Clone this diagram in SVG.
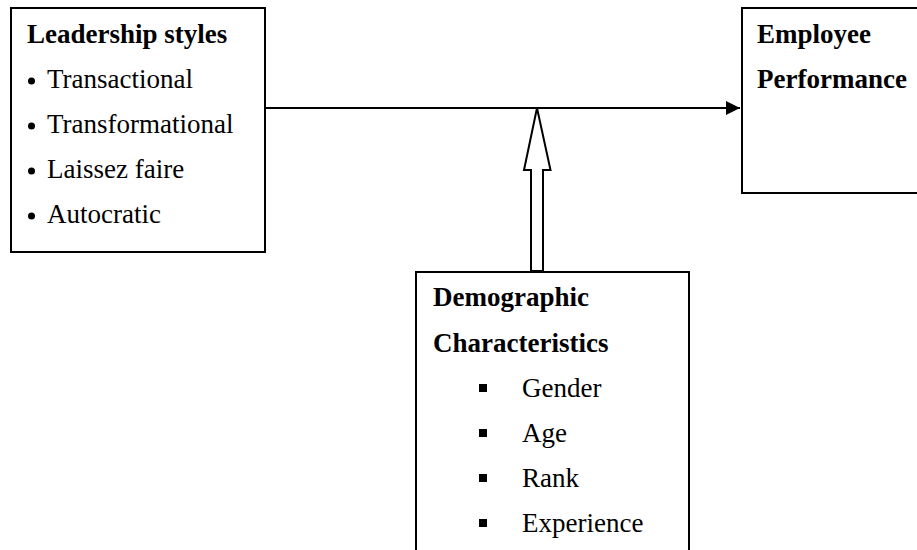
<svg xmlns="http://www.w3.org/2000/svg" width="917" height="550" viewBox="0 0 917 550">
<style>
.box{fill:#fff;stroke:#000;stroke-width:2}
.t{font-family:"Liberation Serif","Times New Roman",serif;font-size:27px;fill:#000}
.b{font-weight:bold}
.line{stroke:#000;stroke-width:2;fill:none}
</style>
<defs>
<marker id="ah" markerWidth="14" markerHeight="14" refX="14" refY="7" orient="auto" markerUnits="userSpaceOnUse">
<path d="M0,0 L14,7 L0,14 Z" fill="#000"/>
</marker>
</defs>
<rect width="917" height="550" fill="#fff"/>
<g id="leadership">
<rect class="box" x="11" y="8" width="254" height="244"/>
<text class="t b" x="27" y="43">Leadership styles</text>
<circle cx="31.5" cy="81" r="3.5"/>
<text class="t" x="47" y="88">Transactional</text>
<circle cx="31.5" cy="126" r="3.5"/>
<text class="t" x="47" y="133">Transformational</text>
<circle cx="31.5" cy="171" r="3.5"/>
<text class="t" x="47" y="178">Laissez faire</text>
<circle cx="31.5" cy="216" r="3.5"/>
<text class="t" x="47" y="223">Autocratic</text>
</g>
<g id="performance">
<rect class="box" x="742" y="8" width="190" height="185"/>
<text class="t b" x="757" y="43">Employee</text>
<text class="t b" x="757" y="88">Performance</text>
</g>
<g id="demographic">
<rect class="box" x="416" y="272" width="273" height="290"/>
<text class="t b" x="433" y="306">Demographic</text>
<text class="t b" x="433" y="352">Characteristics</text>
<rect x="479" y="384" width="8" height="8"/>
<text class="t" x="522" y="397">Gender</text>
<rect x="479" y="429" width="8" height="8"/>
<text class="t" x="522" y="442">Age</text>
<rect x="479" y="474" width="8" height="8"/>
<text class="t" x="522" y="487">Rank</text>
<rect x="479" y="519" width="8" height="8"/>
<text class="t" x="522" y="532">Experience</text>
</g>
<g id="connectors">
<line class="line" x1="265" y1="108" x2="740" y2="108" marker-end="url(#ah)"/>
<path class="line" d="M537,108 L550.5,170 L543,170 L543,271 L531,271 L531,170 L524,170 Z" style="fill:#fff"/>
</g>
</svg>
